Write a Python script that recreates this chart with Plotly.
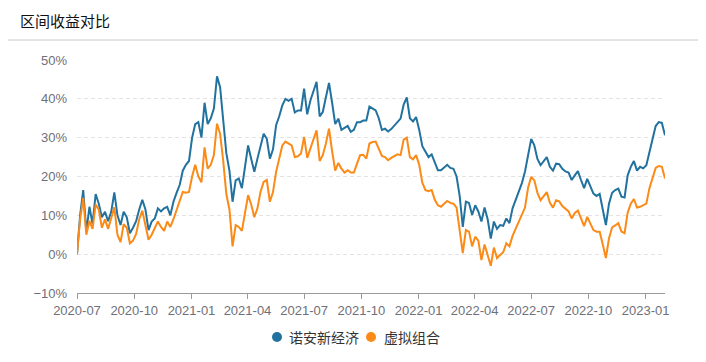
import plotly.graph_objects as go

dates = [
    "2020-07-01", "2020-07-06", "2020-07-11", "2020-07-16", "2020-07-21", "2020-07-26", "2020-07-31",
    "2020-08-05", "2020-08-10", "2020-08-15", "2020-08-20", "2020-08-25", "2020-08-30",
    "2020-09-04", "2020-09-09", "2020-09-14", "2020-09-19", "2020-09-24", "2020-09-29",
    "2020-10-04", "2020-10-09", "2020-10-14", "2020-10-19", "2020-10-24", "2020-10-29",
    "2020-11-03", "2020-11-08", "2020-11-13", "2020-11-18", "2020-11-23", "2020-11-28",
    "2020-12-03", "2020-12-08", "2020-12-13", "2020-12-18", "2020-12-23", "2020-12-28",
    "2021-01-02", "2021-01-07", "2021-01-12", "2021-01-17", "2021-01-22", "2021-01-27",
    "2021-02-01", "2021-02-06", "2021-02-11", "2021-02-16", "2021-02-21", "2021-02-26",
    "2021-03-03", "2021-03-08", "2021-03-13", "2021-03-18", "2021-03-23", "2021-03-28",
    "2021-04-02", "2021-04-07", "2021-04-12", "2021-04-17", "2021-04-22", "2021-04-27",
    "2021-05-02", "2021-05-07", "2021-05-12", "2021-05-17", "2021-05-22", "2021-05-27",
    "2021-06-01", "2021-06-06", "2021-06-11", "2021-06-16", "2021-06-21", "2021-06-26",
    "2021-07-01", "2021-07-06", "2021-07-11", "2021-07-16", "2021-07-21", "2021-07-26", "2021-07-31",
    "2021-08-05", "2021-08-10", "2021-08-15", "2021-08-20", "2021-08-25", "2021-08-30",
    "2021-09-04", "2021-09-09", "2021-09-14", "2021-09-19", "2021-09-24", "2021-09-29",
    "2021-10-04", "2021-10-09", "2021-10-14", "2021-10-19", "2021-10-24", "2021-10-29",
    "2021-11-03", "2021-11-08", "2021-11-13", "2021-11-18", "2021-11-23", "2021-11-28",
    "2021-12-03", "2021-12-08", "2021-12-13", "2021-12-18", "2021-12-23", "2021-12-28",
    "2022-01-02", "2022-01-07", "2022-01-12", "2022-01-17", "2022-01-22", "2022-01-27",
    "2022-02-01", "2022-02-06", "2022-02-11", "2022-02-16", "2022-02-21", "2022-02-26",
    "2022-03-03", "2022-03-08", "2022-03-13", "2022-03-18", "2022-03-23", "2022-03-28",
    "2022-04-02", "2022-04-07", "2022-04-12", "2022-04-17", "2022-04-22", "2022-04-27",
    "2022-05-02", "2022-05-07", "2022-05-12", "2022-05-17", "2022-05-22", "2022-05-27",
    "2022-06-01", "2022-06-06", "2022-06-11", "2022-06-16", "2022-06-21", "2022-06-26",
    "2022-07-01", "2022-07-06", "2022-07-11", "2022-07-16", "2022-07-21", "2022-07-26", "2022-07-31",
    "2022-08-05", "2022-08-10", "2022-08-15", "2022-08-20", "2022-08-25", "2022-08-30",
    "2022-09-04", "2022-09-09", "2022-09-14", "2022-09-19", "2022-09-24", "2022-09-29",
    "2022-10-04", "2022-10-09", "2022-10-14", "2022-10-19", "2022-10-24", "2022-10-29",
    "2022-11-03", "2022-11-08", "2022-11-13", "2022-11-18", "2022-11-23", "2022-11-28",
    "2022-12-03", "2022-12-08", "2022-12-13", "2022-12-18", "2022-12-23", "2022-12-28",
    "2023-01-02", "2023-01-07", "2023-01-12", "2023-01-17", "2023-01-22", "2023-01-27",
    "2023-02-01",
]

fund_name = "诺安新经济"
fund_returns = [
    0.0, 10.0, 16.5, 5.8, 12.2, 7.8, 15.5, 13.0, 9.5, 10.9,
    8.5, 10.9, 15.9, 10.0, 7.5, 10.9, 9.5, 5.4, 6.8, 8.5,
    11.5, 14.0, 11.5, 6.2, 8.4, 9.2, 11.8, 11.0, 11.8, 12.2,
    10.0, 13.5, 15.8, 17.8, 21.5, 23.0, 24.0, 30.0, 33.5, 34.0,
    30.0, 39.0, 33.5, 35.0, 37.5, 45.8, 43.0, 34.5, 26.0, 21.5,
    13.5, 19.0, 19.5, 17.0, 22.5, 28.0, 24.5, 21.2, 24.6, 28.0,
    31.0, 29.7, 24.6, 27.0, 33.2, 35.5, 38.3, 40.0, 39.5, 40.0,
    36.5, 37.0, 37.0, 42.6, 36.0, 39.5, 41.7, 44.4, 35.5, 36.6,
    40.4, 44.1, 39.0, 33.5, 34.9, 32.0, 32.5, 33.0, 31.5, 32.0,
    34.0, 34.0, 34.4, 34.4, 38.0, 37.4, 37.0, 35.0, 32.0, 32.3,
    31.6, 32.2, 33.2, 34.0, 34.9, 38.5, 40.4, 35.0, 34.2, 35.3,
    32.0, 27.8, 26.2, 25.0, 25.7, 23.5, 21.6, 21.6, 22.4, 23.0,
    22.2, 22.0, 20.0, 15.0, 7.0, 13.5, 13.2, 10.1, 12.6, 11.0,
    8.4, 12.0, 9.0, 4.0, 8.4, 6.5, 7.5, 7.3, 9.2, 8.0,
    11.8, 14.0, 16.5, 18.3, 21.3, 25.5, 29.7, 28.0, 24.5, 22.9,
    24.0, 25.0, 22.5, 21.5, 23.3, 23.2, 22.0, 21.3, 21.0, 19.1,
    20.3, 21.4, 19.1, 17.0, 19.4, 17.4, 15.6, 15.0, 15.5, 11.5,
    7.5, 13.0, 15.8, 16.5, 16.9, 14.8, 14.6, 20.3, 22.5, 24.0,
    21.5, 22.5, 22.1, 22.9, 26.5, 29.3, 33.0, 34.0, 33.8, 30.6,
]

virtual_name = "虚拟组合"
virtual_returns = [
    0.0, 9.0, 14.5, 5.0, 8.6, 6.5, 12.8, 11.5, 6.8, 9.0,
    6.5, 9.0, 12.1, 5.0, 3.1, 7.7, 6.8, 2.8, 3.5, 5.2,
    9.0, 11.2, 7.5, 3.7, 5.0, 6.7, 8.4, 7.0, 6.0, 8.4,
    7.0, 9.0, 11.5, 14.0, 16.0, 15.8, 16.0, 20.0, 23.0, 20.0,
    18.5, 27.5, 22.0, 23.0, 25.5, 33.6, 31.0, 24.0, 15.5, 11.5,
    2.0, 7.5, 7.0, 6.0, 10.5, 15.2, 12.8, 9.5, 11.8, 16.1,
    18.6, 19.1, 13.5, 16.0, 21.2, 24.5, 28.0, 29.0, 28.5, 28.0,
    25.0, 25.2, 25.9, 30.2, 24.8, 27.0, 29.3, 31.9, 24.0, 25.5,
    28.5, 32.3, 26.5, 21.5, 23.5, 22.0, 21.0, 21.6, 21.0, 21.0,
    23.3, 25.5, 25.6, 24.6, 28.5, 28.9, 29.0, 27.0, 25.3, 25.0,
    24.2, 24.8, 25.3, 25.7, 25.5, 29.5, 30.0, 25.0, 24.4, 25.5,
    23.0, 18.4, 16.5, 16.2, 16.5, 14.0, 12.6, 12.2, 13.0, 13.7,
    13.2, 13.0, 12.0, 6.5, 0.3, 6.2, 5.8, 2.0, 4.5, 3.5,
    -1.5, 2.5, -0.5, -3.0, 1.7, -1.0, -0.2, 0.5, 2.8, 2.0,
    4.7, 6.5, 8.4, 9.8, 12.0, 17.2, 19.9, 19.0, 15.8, 13.9,
    15.0, 16.0, 13.2, 12.0, 13.9, 13.6, 12.4, 11.6, 11.0, 9.2,
    10.6, 11.2, 9.0, 7.2, 9.6, 7.8, 6.2, 5.8, 5.8, 2.5,
    -1.0, 4.1, 6.9, 7.4, 8.0, 5.8, 5.4, 10.7, 13.0, 14.2,
    12.0, 12.2, 12.5, 13.0, 17.0, 19.5, 22.2, 22.7, 22.5, 19.5,
]

x_tick_labels = ["2020-07", "2020-10", "2021-01", "2021-04", "2021-07", "2021-10",
                 "2022-01", "2022-04", "2022-07", "2022-10", "2023-01"]
y_tick_values = [-10, 0, 10, 20, 30, 40, 50]

title_text = "区间收益对比"

BLUE = "#22729f"
ORANGE = "#fb8a16"
CJK = "Noto Sans CJK SC, Noto Sans, sans-serif"
LAT = "Liberation Sans, Arial, Noto Sans CJK SC, sans-serif"

# the page body has an 8px margin, so the figure is drawn 8px smaller
W, H = 698, 354
ML, MR, MT, MB = 69, 41, 52, 69
PW, PH = W - ML - MR, H - MT - MB


def px_x(px):
    return (px - ML) / PW


def px_y(py):
    return (H - MB - py) / PH


fig = go.Figure()
fig.add_trace(go.Scatter(x=dates, y=fund_returns, mode="lines", name=fund_name,
                         line=dict(color=BLUE, width=2), showlegend=False))
fig.add_trace(go.Scatter(x=dates, y=virtual_returns, mode="lines", name=virtual_name,
                         line=dict(color=ORANGE, width=2), showlegend=False))

fig.update_layout(
    width=W, height=H,
    margin=dict(l=ML, r=MR, t=MT, b=MB),
    paper_bgcolor="white", plot_bgcolor="white",
    font=dict(family=LAT, size=13, color="#6e7079"),
    title=dict(text=title_text, x=12 / W, xanchor="left", xref="container",
               y=1 - 14 / H, yanchor="middle", yref="container",
               font=dict(family=CJK, size=15, color="#111")),
    showlegend=False,
)

fig.update_xaxes(
    type="date",
    range=[dates[0], dates[-1]],
    tickvals=[t + "-01" for t in x_tick_labels],
    ticktext=x_tick_labels,
    showgrid=False, zeroline=False,
    showline=True, linecolor="#9a9a9a", linewidth=1,
    ticks="outside", ticklen=5, tickcolor="#9a9a9a",
    tickfont=dict(family=LAT, size=13, color="#6e7079"),
)
fig.update_yaxes(
    range=[-10, 50],
    tickvals=y_tick_values,
    ticktext=[f"{v}%" if v >= 0 else f"\u2212{abs(v)}%" for v in y_tick_values],
    showgrid=True, gridcolor="#e3e3e3", gridwidth=1, griddash="4px,3px",
    zeroline=False, showline=False, ticks="",
    ticklabelstandoff=9,
    tickfont=dict(family=LAT, size=13, color="#6e7079"),
)

# header separator line
fig.add_shape(type="line", xref="paper", yref="paper",
              x0=px_x(0), x1=px_x(692), y0=px_y(32), y1=px_y(32),
              line=dict(color="#c8c8c8", width=1))

# manual legend (circle markers + names)
legend_items = [(fund_name, BLUE, 269, 279), (virtual_name, ORANGE, 363, 374)]
for name, col, cx, tx in legend_items:
    fig.add_shape(type="circle", xref="paper", yref="paper",
                  xsizemode="pixel", ysizemode="pixel",
                  xanchor=px_x(cx), yanchor=px_y(329),
                  x0=-5, x1=5, y0=-5, y1=5,
                  fillcolor=col, line=dict(color=col, width=0))
    fig.add_annotation(xref="paper", yref="paper", x=px_x(tx), y=px_y(329),
                       xanchor="left", yanchor="middle", showarrow=False,
                       text=name, font=dict(family=CJK, size=14, color="#333"))

fig.write_html("out.html")
